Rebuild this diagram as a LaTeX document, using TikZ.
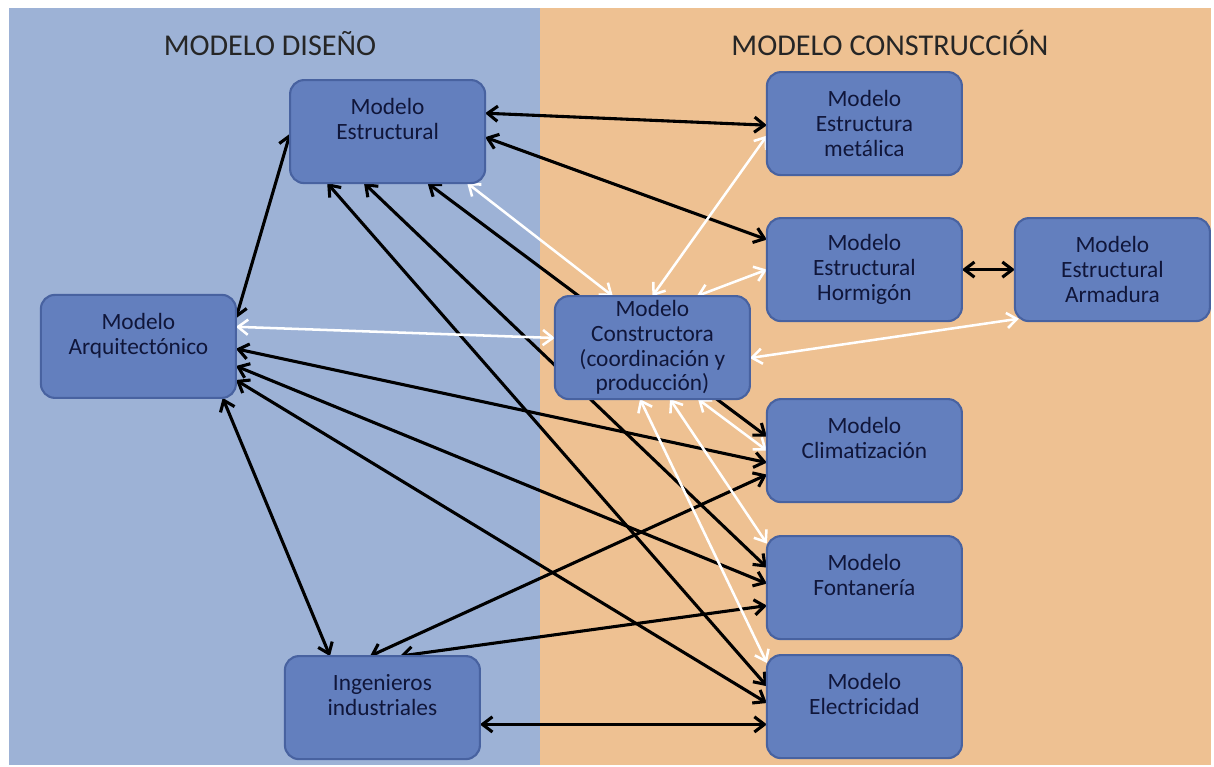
\documentclass[tikz,border=0pt]{standalone}
\usepackage{fontspec}
\setmainfont{Carlito}
\usepackage{xcolor}
\usetikzlibrary{arrows.meta,positioning}

\definecolor{panelblue}{HTML}{9DB2D6}
\definecolor{panelorange}{HTML}{EEC192}
\definecolor{boxfill}{HTML}{637FBE}
\definecolor{boxline}{HTML}{4862A0}
\definecolor{boxtext}{HTML}{10163A}

\pgfdeclarelayer{background}
\pgfdeclarelayer{links}
\pgfsetlayers{background,links,main}

\begin{document}
\begin{tikzpicture}[
    node distance=1cm,
    model/.style={rectangle, rounded corners=0.35cm, draw=boxline, line width=1.5pt, fill=boxfill, text=boxtext, align=center, minimum width=4.875cm, minimum height=2.575cm, outer sep=0pt, inner sep=2pt, font=\fontsize{16.6}{17.6}\selectfont},
    title/.style={font=\fontsize{21.5}{25}\selectfont, text=black!85},
    link/.style={<->, >={Straight Barb[length=2.5mm,width=3.8mm]}, line width=2.2pt, black},
    wlink/.style={link, white, line width=1.8pt}
]
    \useasboundingbox (0,0) rectangle (30.35,-19.175);

    % Design model
    \node[model] (estr) at (9.69,-3.29) {Modelo\\Estructural\\\mbox{}};
    \node[model] (arq) at (3.46,-8.66) {Modelo\\Arquitectónico\\\mbox{}};
    \node[model] (ing) at (9.56,-17.69) {Ingenieros\\industriales\\\mbox{}};

    % Construction model
    \node[model] (cons) at (16.31,-8.69) {Modelo\\Constructora\\(coordinación y\\producción)};
    \node[model] (met) at (21.61,-3.09) {Modelo\\Estructura\\metálica};
    \node[model, below=1.075cm of met] (horm) {Modelo\\Estructural\\Hormigón};
    \node[model, right=1.325cm of horm] (arm) {Modelo\\Estructural\\Armadura};
    \node[model, below=1.95cm of horm] (clim) {Modelo\\Climatización\\\mbox{}};
    \node[model, below=0.85cm of clim] (fon) {Modelo\\Fontanería\\\mbox{}};
    \node[model, below=0.4cm of fon] (elec) {Modelo\\Electricidad\\\mbox{}};

    % Panels and titles
    \begin{pgfonlayer}{background}
        \fill[panelblue] (0.225,-0.2) rectangle (13.5,-19.12);
        \fill[panelorange] (13.5,-0.2) rectangle (30.28,-19.12);
    \end{pgfonlayer}
    \node[title] (tdis) at (6.75,-1.08) {MODELO DISEÑO};
    \node[title] (tcon) at (22.25,-1.08) {MODELO CONSTRUCCIÓN};

    % Links
    \begin{pgfonlayer}{links}
        \draw[link] ([yshift=0.46cm]estr.east) -- ([yshift=-0.04cm]met.west);
        \draw[link] ([yshift=-0.14cm]estr.east) -- ([yshift=0.75cm]horm.west);
        \draw[link] ([yshift=-0.05cm]estr.west) -- ([yshift=0.7cm]arq.east);
        \draw[link] ([xshift=1cm]estr.south) -- ([yshift=0.35cm]clim.west);
        \draw[link] ([xshift=-0.59cm]estr.south) -- ([yshift=0.5cm]fon.west);
        \draw[link] ([xshift=-1.51cm]estr.south) -- ([yshift=0.51cm]elec.west);
        \draw[link] ([yshift=-0.06cm]arq.east) -- ([yshift=-0.3cm]clim.west);
        \draw[link] ([yshift=-0.49cm]arq.east) -- ([yshift=0.1cm]fon.west);
        \draw[link] ([yshift=-0.84cm]arq.east) -- ([yshift=0.09cm]elec.west);
        \draw[link] ([xshift=-0.33cm]arq.south east) -- ([xshift=-1.31cm]ing.north);
        \draw[link] ([xshift=-0.31cm]ing.north) -- ([yshift=-0.6cm]clim.west);
        \draw[link] ([xshift=0.44cm]ing.north) -- ([yshift=-0.45cm]fon.west);
        \draw[link] ([yshift=-0.42cm]ing.east) -- ([yshift=-0.42cm]ing.east -| elec.west);
        \draw[link] (horm.east) -- (arm.west);

        \draw[wlink] ([xshift=1.99cm]estr.south) -- ([xshift=-0.99cm]cons.north);
        \draw[wlink] ([yshift=-0.3cm]met.west) -- (cons.north);
        \draw[wlink] (horm.west) -- ([xshift=1.11cm]cons.north);
        \draw[wlink] ([yshift=0.49cm]arq.east) -- ([yshift=0.24cm]cons.west);
        \draw[wlink] ([shift={(0.1cm,0.06cm)}]arm.south west) -- ([yshift=-0.26cm]cons.east);
        \draw[wlink] ([xshift=-0.31cm]cons.south) -- ([yshift=1.09cm]elec.west);
        \draw[wlink] ([xshift=0.44cm]cons.south) -- ([yshift=1.1cm]fon.west);
        \draw[wlink] ([xshift=1.14cm]cons.south) -- (clim.west);
    \end{pgfonlayer}
\end{tikzpicture}
\end{document}
